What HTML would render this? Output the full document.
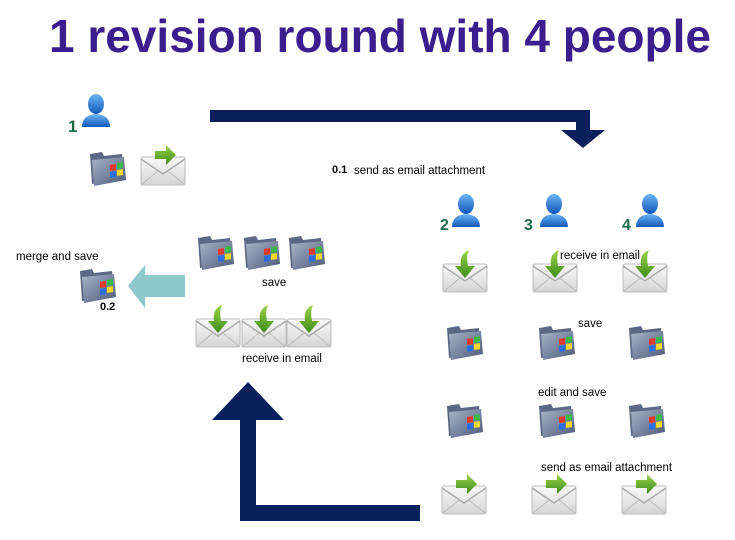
<!DOCTYPE html>
<html><head><meta charset="utf-8"><style>
body{margin:0;background:#fff;width:735px;height:535px;overflow:hidden;font-family:"Liberation Sans",Arial,sans-serif}
</style></head><body>
<svg width="735" height="535" viewBox="0 0 735 535" xmlns="http://www.w3.org/2000/svg" font-family="Liberation Sans, Arial, sans-serif">
<defs>
<linearGradient id="pb" x1="0" y1="0" x2="0" y2="1"><stop offset="0" stop-color="#6ab4f5"/><stop offset="1" stop-color="#1458b8"/></linearGradient>
<linearGradient id="fg" x1="0" y1="0" x2="1" y2="1"><stop offset="0" stop-color="#a9b4c8"/><stop offset="1" stop-color="#4c5a78"/></linearGradient>
<linearGradient id="eg" x1="0" y1="0" x2="0" y2="1"><stop offset="0" stop-color="#fafafa"/><stop offset="1" stop-color="#d4d4d4"/></linearGradient>
<linearGradient id="gg" x1="0" y1="0" x2="0" y2="1"><stop offset="0" stop-color="#9bd44a"/><stop offset="1" stop-color="#3d8a1a"/></linearGradient>
<g id="person">
<path d="M2 34 Q2 22 16 21 Q30 22 30 34 Z" fill="url(#pb)"/>
<ellipse cx="16" cy="11" rx="8" ry="10" fill="url(#pb)"/>
</g>
<g id="folder">
<path d="M2 6 L14 4 L16 8 L34 6 L36 30 L4 36 Z" fill="#5c6884"/>
<path d="M4 12 L36 9 L38 32 L6 38 Z" fill="url(#fg)"/>
<rect x="22" y="20" width="6" height="6" fill="#e23a2a" transform="skewY(-8)"/>
<rect x="29" y="19" width="6" height="6" fill="#3cb84a" transform="skewY(-8)"/>
<rect x="22" y="27" width="6" height="6" fill="#2a6fe0" transform="skewY(-8)"/>
<rect x="29" y="26" width="6" height="6" fill="#f2d82a" transform="skewY(-8)"/>
</g>
<g id="env">
<rect x="1" y="14" width="44" height="28" rx="2" fill="url(#eg)" stroke="#bbb"/>
<path d="M1 16 L23 31 L45 16" fill="none" stroke="#aaa" stroke-width="1.5"/>
<path d="M1 42 L18 28 M45 42 L28 28" stroke="#bbb"/>
</g>
<g id="senv">
<use href="#env"/>
<path d="M15 8 L26 8 L26 2 L36 12 L26 22 L26 16 L15 16 Z" fill="url(#gg)"/>
</g>
<g id="renv">
<use href="#env"/>
<path d="M27 0 Q17 4 19 16 L13 16 L23 28 L33 16 L26 16 Q24 6 27 0 Z" fill="url(#gg)"/>
</g>
</defs>
<text x="380" y="52" text-anchor="middle" font-size="46" font-weight="bold" fill="#3b1e8e">1 revision round with 4 people</text>

<path d="M210 110 L590 110 L590 130 L605 130 L583 148 L561 130 L576 130 L576 122 L210 122 Z" fill="#0b1f5c"/>
<path d="M420 505 L420 521 L240 521 L240 420 L212 420 L248 382 L284 420 L256 420 L256 505 Z" fill="#0b1f5c"/>
<path d="M185 275 L145 275 L145 265 L128 286 L145 308 L145 297 L185 297 Z" fill="#8ec8cc"/>

<use href="#person" x="80" y="93"/>
<text x="68" y="132" font-size="17" font-weight="bold" fill="#1f6b4a">1</text>
<use href="#folder" x="88" y="148"/>
<use href="#senv" x="140" y="143"/>

<text x="332" y="173" font-size="11" font-weight="bold">0.1</text>
<text x="354" y="174" font-size="11.5">send as email attachment</text>

<use href="#person" x="450" y="193"/>
<use href="#person" x="538" y="193"/>
<use href="#person" x="634" y="193"/>
<text x="440" y="230" font-size="16" font-weight="bold" fill="#1f6b4a">2</text>
<text x="524" y="230" font-size="16" font-weight="bold" fill="#1f6b4a">3</text>
<text x="622" y="230" font-size="16" font-weight="bold" fill="#1f6b4a">4</text>

<use href="#renv" x="442" y="250"/>
<use href="#renv" x="532" y="250"/>
<use href="#renv" x="622" y="250"/>
<text x="560" y="259" font-size="11.5">receive in email</text>

<use href="#folder" x="445" y="322"/>
<use href="#folder" x="537" y="322"/>
<use href="#folder" x="627" y="322"/>
<text x="578" y="327" font-size="11.5">save</text>

<text x="538" y="396" font-size="11.5">edit and save</text>
<use href="#folder" x="445" y="400"/>
<use href="#folder" x="537" y="400"/>
<use href="#folder" x="627" y="400"/>

<text x="541" y="471" font-size="11.5">send as email attachment</text>
<use href="#senv" x="441" y="472"/>
<use href="#senv" x="531" y="472"/>
<use href="#senv" x="621" y="472"/>

<use href="#folder" x="196" y="232"/>
<use href="#folder" x="242" y="232"/>
<use href="#folder" x="287" y="232"/>
<text x="262" y="286" font-size="11.5">save</text>
<use href="#renv" x="195" y="305"/>
<use href="#renv" x="241" y="305"/>
<use href="#renv" x="286" y="305"/>
<text x="242" y="362" font-size="11.5">receive in email</text>

<text x="16" y="260" font-size="11.5">merge and save</text>
<use href="#folder" x="78" y="265"/>
<text x="100" y="310" font-size="11" font-weight="bold">0.2</text>
</svg>
</body></html>
